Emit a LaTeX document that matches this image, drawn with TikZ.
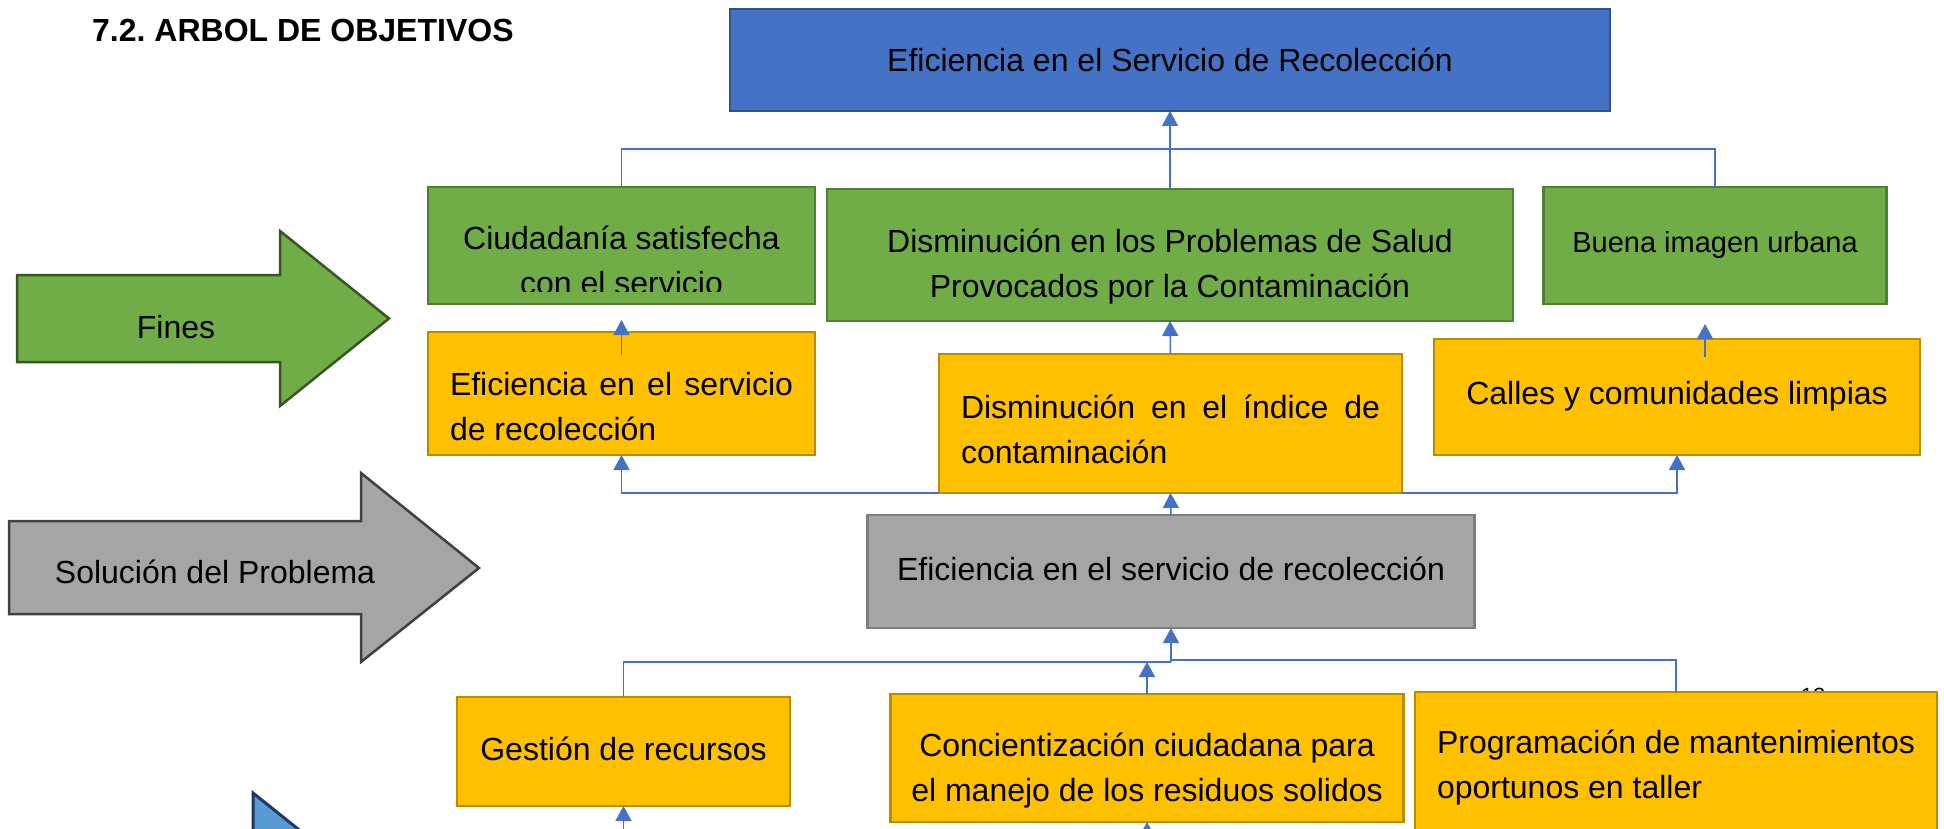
\documentclass[tikz,border=0pt]{standalone}
\usepackage{fontspec}
\setmainfont{Liberation Sans}
\usetikzlibrary{arrows.meta,calc}
\definecolor{cBlue}{HTML}{4472C4}
\definecolor{cBlueD}{HTML}{2F528F}
\definecolor{cGreen}{HTML}{70AD47}
\definecolor{cGreenD}{HTML}{507E32}
\definecolor{cGreenA}{HTML}{375623}
\definecolor{cYel}{HTML}{FFC000}
\definecolor{cYelD}{HTML}{BC8C00}
\definecolor{cGray}{HTML}{A5A5A5}
\definecolor{cGrayD}{HTML}{7F7F7F}
\definecolor{cGrayA}{HTML}{404040}
\definecolor{cLBlue}{HTML}{5B9BD5}
\definecolor{cNavy}{HTML}{1F3864}
\definecolor{cConn}{HTML}{4472C4}
\tolerance=10000
\hyphenpenalty=10000
\frenchspacing
\newcommand\myfs[1]{\fontsize{#1}{45}\selectfont}
\newcommand\lowered[2]{\raisebox{-#1pt}[0pt][0pt]{#2}}
\tikzset{
  objbox/.style={draw, rectangle, line width=2.5pt, inner sep=0pt, outer sep=0pt, font=\myfs{32}},
  bluebox/.style={objbox, fill=cBlue, draw=cBlueD},
  greenbox/.style={objbox, fill=cGreen, draw=cGreenD},
  yelbox/.style={objbox, fill=cYel, draw=cYelD},
  graybox/.style={objbox, fill=cGray, draw=cGrayD},
  conn/.style={draw=cConn, line width=1.5pt},
  arr/.style={-{Triangle[length=15pt,width=16pt]}},
  bigarrow/.style={line width=2.5pt, line join=miter},
  lbl/.style={inner sep=0pt, anchor=base, font=\myfs{32}}
}
\begin{document}
\begin{tikzpicture}[x=1pt,y=-1pt]
\path[use as bounding box] (0,0) rectangle (1944,829);
\clip (0,0) rectangle (1944,829);
\fill[white] (0,0) rectangle (1944,829);

% title
\node[lbl, anchor=base west, font=\myfs{32}\bfseries] (title) at (92,42) {7.2. ARBOL DE OBJETIVOS};

% big side arrows
\filldraw[bigarrow, fill=cGreen, draw=cGreenA] (17,275) -- (280,275) -- (280,231) -- (389,318.5) -- (280,406) -- (280,362) -- (17,362) -- cycle;
\node[lbl] (fines) at (176,338) {Fines};
\filldraw[bigarrow, fill=cGray, draw=cGrayA] (9,521) -- (361,521) -- (361,473) -- (479,568) -- (361,662) -- (361,614) -- (9,614) -- cycle;
\node[lbl] (solucion) at (215,583) {Solución del Problema};
\filldraw[line width=3pt, fill=cLBlue, draw=cNavy] (253,793) -- (363,881) -- (253,969) -- cycle;

% page number (mostly hidden)
\node[lbl, font=\myfs{22}] (pg) at (1813,703) {12};

% boxes
\node[bluebox, minimum width=880, minimum height=102] (b) at (1170,60)
  {\lowered{12}{Eficiencia en el Servicio de Recolección}};

\node[greenbox, minimum width=387, minimum height=117] (g1) at (621.5,245.5)
  {\lowered{4.5}{\parbox[t]{387pt}{\centering Ciudadanía satisfecha\\con el servicio}}};
\fill[cGreen] ($(g1.south west)+(2,-12)$) rectangle ($(g1.south east)+(-2,-1.5)$);
\node[greenbox, minimum width=686, minimum height=132] (g2) at (1170,255)
  {\lowered{-3}{\parbox[t]{686pt}{\centering Disminución en los Problemas de Salud\\Provocados por la Contaminación}}};
\node[greenbox, minimum width=343, minimum height=117, font=\myfs{29}] (g3) at (1715,245.5)
  {\lowered{6.5}{Buena imagen urbana}};

\node[yelbox, minimum width=387, minimum height=123] (y1) at (621.5,393.5)
  {\lowered{1.5}{\parbox[t]{343pt}{Eficiencia en el servicio de recolección}}};
\node[yelbox, minimum width=463, minimum height=139] (y2) at (1170.5,423.5)
  {\lowered{-5.5}{\parbox[t]{419pt}{Disminución en el índice de contaminación}}};
\node[yelbox, minimum width=486, minimum height=116] (y3) at (1677,397)
  {\lowered{7}{Calles y comunidades limpias}};

\node[graybox, minimum width=607, minimum height=113] (gr) at (1171,571.5)
  {\lowered{8.5}{Eficiencia en el servicio de recolección}};

\node[yelbox, minimum width=333, minimum height=109] (gest) at (623.5,751.5)
  {\lowered{8.5}{Gestión de recursos}};
\node[yelbox, minimum width=513, minimum height=128] (conc) at (1147,758)
  {\lowered{-2}{\parbox[t]{513pt}{\centering Concientización ciudadana para\\el manejo de los residuos solidos}}};
\node[yelbox, minimum width=522, minimum height=158] (prog) at (1676,771)
  {\lowered{-18}{\parbox[t]{478pt}{\raggedright Programación de mantenimientos\\oportunos en taller}}};

% connectors: top level
\coordinate (jt) at (1170,149);
\draw[conn] (g1.north) |- (jt) -| (g3.north);
\draw[conn, arr] (g2.north) -- (b.south);
\draw[conn, line width=2.5pt] (jt) -- ($(b.south)+(0,20)$);

% yellow to green
\draw[conn, arr] ($(y1.north)+(0,23)$) -- ($(g1.south)+(0,16)$);
\draw[conn, arr] (y2.north) -- (g2.south);
\draw[conn, arr] ($(y3.north)+(28,18)$) -- ($(g3.south)+(-10,20)$);

% gray to yellow
\draw[conn, arr] (gr.north) -- (y2.south);
\draw[conn, arr] (y2.south west) -| (y1.south);
\draw[conn, arr] (y2.south east) -| (y3.south);

% bottom level
\coordinate (jb) at (1171,662);
\draw[conn, arr] (jb) -- (gr.south);
\draw[conn] (gest.north) |- (jb);
\draw[conn] (prog.north) |- ($(jb)+(0,-2)$) -- (jb);
\draw[conn, arr] (conc.north) -- (conc.north |- jb);
\coordinate (gb) at (623.5,860);
\coordinate (cb) at (1147,860);
\draw[conn, arr] (gb) -- (gest.south);
\draw[conn, arr] (cb) -- (conc.south);
\end{tikzpicture}
\end{document}
